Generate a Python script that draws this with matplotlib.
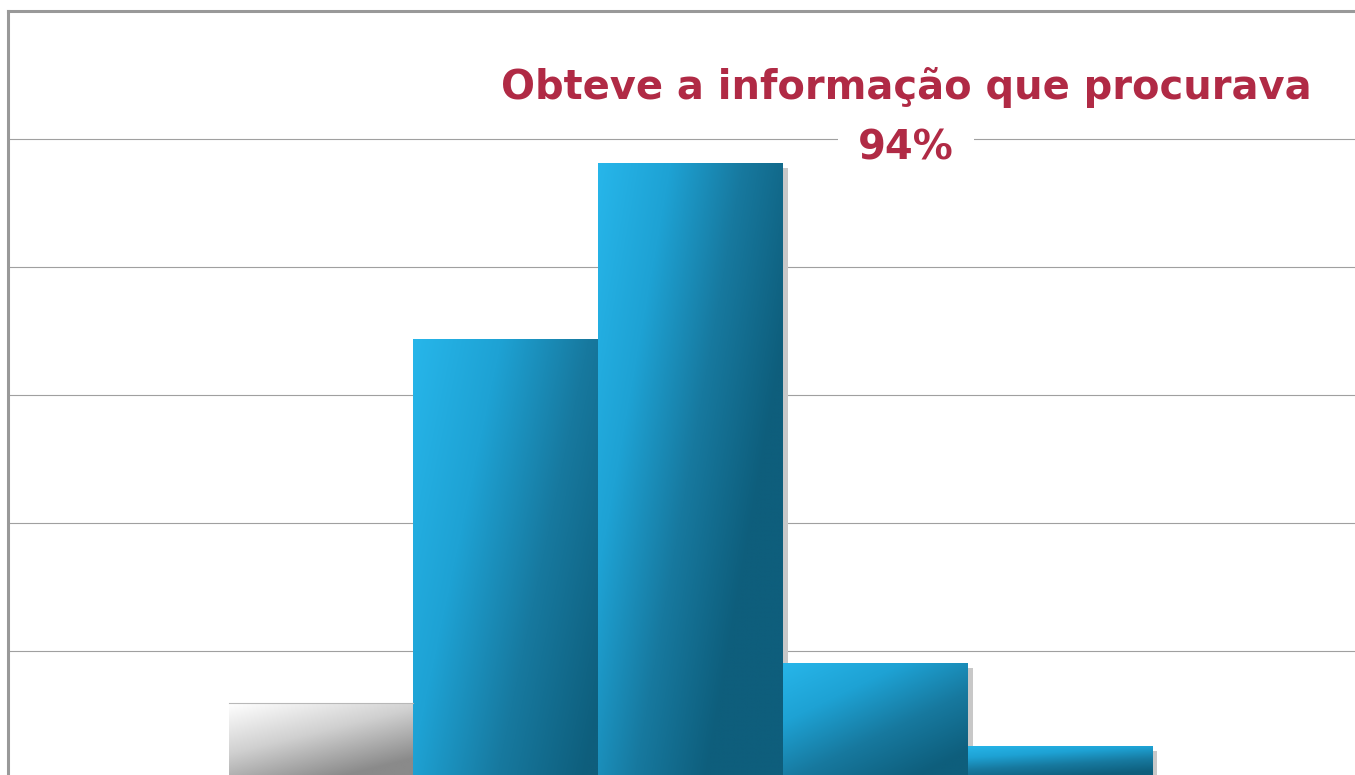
import numpy as np
import matplotlib
matplotlib.use("Agg")
import matplotlib.pyplot as plt
from matplotlib.colors import LinearSegmentedColormap
from matplotlib.transforms import offset_copy

# ---- data ----
categories = ["Não", "Sim 1", "Sim 2", "Sim 3", "Sim 4"]
values = [5.9, 34.4, 48.1, 9.1, 2.6]
title_line1 = "Obteve a informação que procurava"
title_line2 = "94%"
gridlines = [10, 20, 30, 40, 50]

W, H = 1355, 775
fig = plt.figure(figsize=(W / 100, H / 100), dpi=100)
left_px, top_px, bottom_px = 8, 11, 779
ax = fig.add_axes([left_px / W, (H - bottom_px) / H, 1 - left_px / W + 0.01,
                   (bottom_px - top_px) / H])
xmin = -1.694
xmax = xmin + (W * 1.01 - left_px) / 184.75

for sp in ["right", "bottom"]:
    ax.spines[sp].set_visible(False)
for sp in ["left", "top"]:
    ax.spines[sp].set_color("#999999")
    ax.spines[sp].set_linewidth(2.2)
ax.set_xticks([])
ax.set_yticks([])
for g in gridlines:
    ax.axhline(g, color="#a0a0a0", lw=0.8, zorder=0)

x = np.arange(len(categories))

# shadows
shadow_tr = offset_copy(ax.transData, fig=fig, x=5, y=-5, units="dots")
ax.bar(x, values, width=1.0, color="#c8c8c8", transform=shadow_tr, zorder=1,
       linewidth=0)

blue = LinearSegmentedColormap.from_list("b", ["#27b6ea", "#1ea2d4", "#17799f", "#0e5e7c"])
grey = LinearSegmentedColormap.from_list("g", ["#ffffff", "#d0d0d0", "#8a8a8a"])
# gradient weights (horizontal, vertical) per bar
weights = [(0.45, 0.75), (0.7, 0.35), (0.85, 0.5), (0.5, 0.65), (0.3, 0.9)]
cmaps = [grey, blue, blue, blue, blue]

bars = ax.bar(x, values, width=1.0, color="none", linewidth=0, zorder=2)
n = 200
u = np.linspace(0, 1, n)[None, :]
v = np.linspace(0, 1, n)[:, None]
for b, (a, c), cm in zip(bars, weights, cmaps):
    g = np.clip(a * u + c * v, 0, 1)
    bx, by, bw, bh = b.get_x(), b.get_y(), b.get_width(), b.get_height()
    im = ax.imshow(g, cmap=cm, vmin=0, vmax=1, extent=[bx, bx + bw, by, by + bh],
                   origin="upper", aspect="auto", zorder=2, interpolation="bilinear")
    im.set_clip_path(b)
# thin top edge on grey bar
gb = bars[0]
ax.plot([gb.get_x(), gb.get_x() + gb.get_width()], [gb.get_height()] * 2,
        color="#b8b8b8", lw=0.8, zorder=3)

ax.set_xlim(xmin, xmax)
ax.set_ylim(0, 60)

cx = (906 - left_px) / (W * 1.01 - left_px)
ax.text(cx, 1 - (88 - top_px) / (bottom_px - top_px), title_line1, transform=ax.transAxes,
        ha="center", va="center", fontsize=28.8, fontweight="bold", color="#b02a45",
        family="DejaVu Sans", zorder=6)
ax.text(cx, 1 - (148 - top_px) / (bottom_px - top_px), title_line2, transform=ax.transAxes,
        ha="center", va="center", fontsize=28.8, fontweight="bold", color="#b02a45",
        family="DejaVu Sans", zorder=5,
        bbox=dict(boxstyle="square,pad=0.5", fc="white", ec="none"))

fig.savefig("out.png", dpi=100)
